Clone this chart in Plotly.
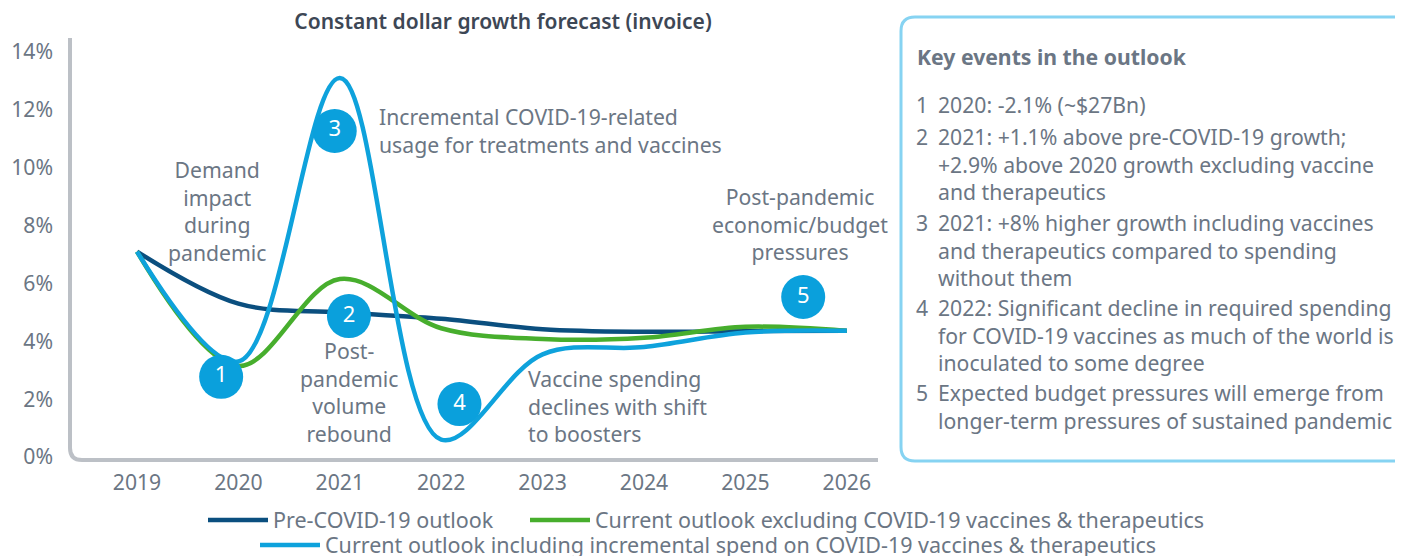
import plotly.graph_objects as go

# Werte (in %)
years = [2019, 2020, 2021, 2022, 2023, 2024, 2025, 2026]
pre_covid = [7.1, 5.3, 5.0, 4.78, 4.42, 4.33, 4.35, 4.36]
excl_vacc = [7.1, 3.15, 6.15, 4.45, 4.08, 4.12, 4.5, 4.36]
incl_vacc = [7.1, 3.3, 13.1, 0.6, 3.55, 3.8, 4.3, 4.36]

series_names = [
    "Pre-COVID-19 outlook",
    "Current outlook excluding COVID-19 vaccines & therapeutics",
    "Current outlook including incremental spend on COVID-19 vaccines & therapeutics",
]

# Nummerierte Marker im Diagramm
marker_labels = ["1", "2", "3", "4", "5"]
marker_x = [2019.83, 2021.09, 2020.95, 2022.18, 2025.57]
marker_y = [2.77, 4.87, 11.27, 1.83, 5.53]

ytick_vals = [0, 2, 4, 6, 8, 10, 12, 14]
ytick_text = ["0%", "2%", "4%", "6%", "8%", "10%", "12%", "14%"]

key_events = [
    "2020: -2.1% (~$27Bn)",
    "2021: +1.1% above pre-COVID-19 growth;<br>+2.9% above 2020 growth excluding vaccine<br>and therapeutics",
    "2021: +8% higher growth including vaccines<br>and therapeutics compared to spending<br>without them",
    "2022: Significant decline in required spending<br>for COVID-19 vaccines as much of the world is<br>inoculated to some degree",
    "Expected budget pressures will emerge from<br>longer-term pressures of sustained pandemic",
]

NAVY = "#0b4f7f"
GREEN = "#47ae2d"
BLUE = "#0ea2dc"
GRAY_TXT = "#6b7684"
FONT = "Noto Sans"
FS = 21.2

OFF = 8  # Seitenrand des Browsers
W, H = 1403, 556
# Plotbereich in Bildschirm-Pixeln
L, R, T, B = 70, 878, 38, 460
GW = W - (L - OFF)  # Breite des Plotbereichs (bis zum rechten Rand)


def px_x(p):
    return (p - L) / GW


def px_y(p):
    return (B - p) / (B - T)


fig = go.Figure()

for vals, name, col, lg in [
    (pre_covid, series_names[0], NAVY, "legend"),
    (excl_vacc, series_names[1], GREEN, "legend2"),
    (incl_vacc, series_names[2], BLUE, "legend3"),
]:
    fig.add_trace(go.Scatter(
        x=years, y=vals, name=name, mode="lines",
        line=dict(color=col, width=4.5, shape="spline", smoothing=1.0),
        legend=lg, hoverinfo="skip",
    ))

fig.add_trace(go.Scatter(
    x=marker_x, y=marker_y, mode="markers+text", text=marker_labels,
    marker=dict(size=44, color="#0aa0dc"),
    textfont=dict(family=FONT, size=22, color="white"),
    textposition="middle center", showlegend=False, hoverinfo="skip",
))

# Achsenlinie mit abgerundeter Ecke
r = 12
axis_path = (f"M {px_x(L)},{px_y(T)} L {px_x(L)},{px_y(B - r)} "
             f"Q {px_x(L)},{px_y(B)} {px_x(L + r)},{px_y(B)} L {px_x(R)},{px_y(B)}")
fig.add_shape(type="path", xref="paper", yref="paper", path=axis_path,
              line=dict(color="#bcc0c6", width=4))

# Kasten rechts (rechter Rand liegt ausserhalb des Bildes)
bx0, bx1, by0, by1, rr = 901, 1470, 17, 461, 14
box_path = (f"M {px_x(bx0 + rr)},{px_y(by0)} L {px_x(bx1 - rr)},{px_y(by0)} "
            f"Q {px_x(bx1)},{px_y(by0)} {px_x(bx1)},{px_y(by0 + rr)} "
            f"L {px_x(bx1)},{px_y(by1 - rr)} Q {px_x(bx1)},{px_y(by1)} {px_x(bx1 - rr)},{px_y(by1)} "
            f"L {px_x(bx0 + rr)},{px_y(by1)} Q {px_x(bx0)},{px_y(by1)} {px_x(bx0)},{px_y(by1 - rr)} "
            f"L {px_x(bx0)},{px_y(by0 + rr)} Q {px_x(bx0)},{px_y(by0)} {px_x(bx0 + rr)},{px_y(by0)} Z")
fig.add_shape(type="path", xref="paper", yref="paper", path=box_path,
              line=dict(color="#86d3f2", width=3))

fig.add_annotation(x=px_x(915), y=px_y(57), xref="paper", yref="paper",
                   text="<b>Key events in the outlook</b>", showarrow=False,
                   xanchor="left", yanchor="middle",
                   font=dict(family=FONT, size=FS, color=GRAY_TXT))

first_line_y = [102, 134, 220, 305, 390]
for i, (txt, yy) in enumerate(zip(key_events, first_line_y)):
    fig.add_annotation(x=px_x(914), y=px_y(yy - 14), xref="paper", yref="paper",
                       text=str(i + 1), showarrow=False, xanchor="left", yanchor="top",
                       font=dict(family=FONT, size=FS, color=GRAY_TXT))
    fig.add_annotation(x=px_x(936), y=px_y(yy - 14), xref="paper", yref="paper",
                       text=txt, showarrow=False, xanchor="left", yanchor="top", align="left",
                       font=dict(family=FONT, size=FS, color=GRAY_TXT))

# Beschriftungen im Diagramm
notes = [
    ("Demand<br>impact<br>during<br>pandemic", 2019.79, 8.5, "center"),
    ("Incremental COVID-19-related<br>usage for treatments and vaccines", 2021.37, 11.29, "left"),
    ("Post-<br>pandemic<br>volume<br>rebound", 2021.09, 2.25, "center"),
    ("Vaccine spending<br>declines with shift<br>to boosters", 2022.84, 1.76, "left"),
    ("Post-pandemic<br>economic/budget<br>pressures", 2025.54, 8.07, "center"),
]
for txt, x, y, anc in notes:
    fig.add_annotation(x=x, y=y, text=txt, showarrow=False, xanchor=anc, yanchor="middle",
                       align=anc, font=dict(family=FONT, size=FS, color=GRAY_TXT))

x0 = 2019 - (137 - L) / 101.4
x1 = 2019 + (R - 137) / 101.4
y0 = -(B - 457) / 28.93
y1 = (457 - T) / 28.93

legend_common = dict(orientation="h", xanchor="left", yanchor="middle", itemwidth=60,
                     bgcolor="rgba(0,0,0,0)",
                     font=dict(family=FONT, size=21.5, color=GRAY_TXT))

fig.update_layout(
    width=W, height=H,
    margin=dict(l=L - OFF, r=0, t=T - OFF, b=H - (B - OFF), autoexpand=False),
    paper_bgcolor="white", plot_bgcolor="white",
    font=dict(family=FONT, size=FS, color=GRAY_TXT),
    title=dict(text="Constant dollar growth forecast (invoice)", x=(503 - OFF) / W,
               xanchor="center", y=1 - (22 - OFF) / H, yanchor="middle",
               xref="container", yref="container",
               font=dict(family=FONT, size=21, color="#3d4755", weight=600)),
    xaxis=dict(range=[x0, x1], domain=[0, (R - L) / GW], tickvals=years, showgrid=False,
               zeroline=False, showline=False, ticks="", ticklabelstandoff=8,
               automargin=False, tickfont=dict(family=FONT, size=FS, color=GRAY_TXT)),
    yaxis=dict(range=[y0, y1], tickvals=ytick_vals, ticktext=ytick_text, showgrid=False,
               zeroline=False, showline=False, ticks="", ticklabelstandoff=16,
               automargin=False, tickfont=dict(family=FONT, size=FS, color=GRAY_TXT)),
    legend=dict(**legend_common, x=px_x(203), y=px_y(520)),
    legend2=dict(**legend_common, x=px_x(525), y=px_y(520)),
    legend3=dict(**legend_common, x=px_x(255), y=px_y(545)),
    showlegend=True,
)

fig.write_html("out.html")
